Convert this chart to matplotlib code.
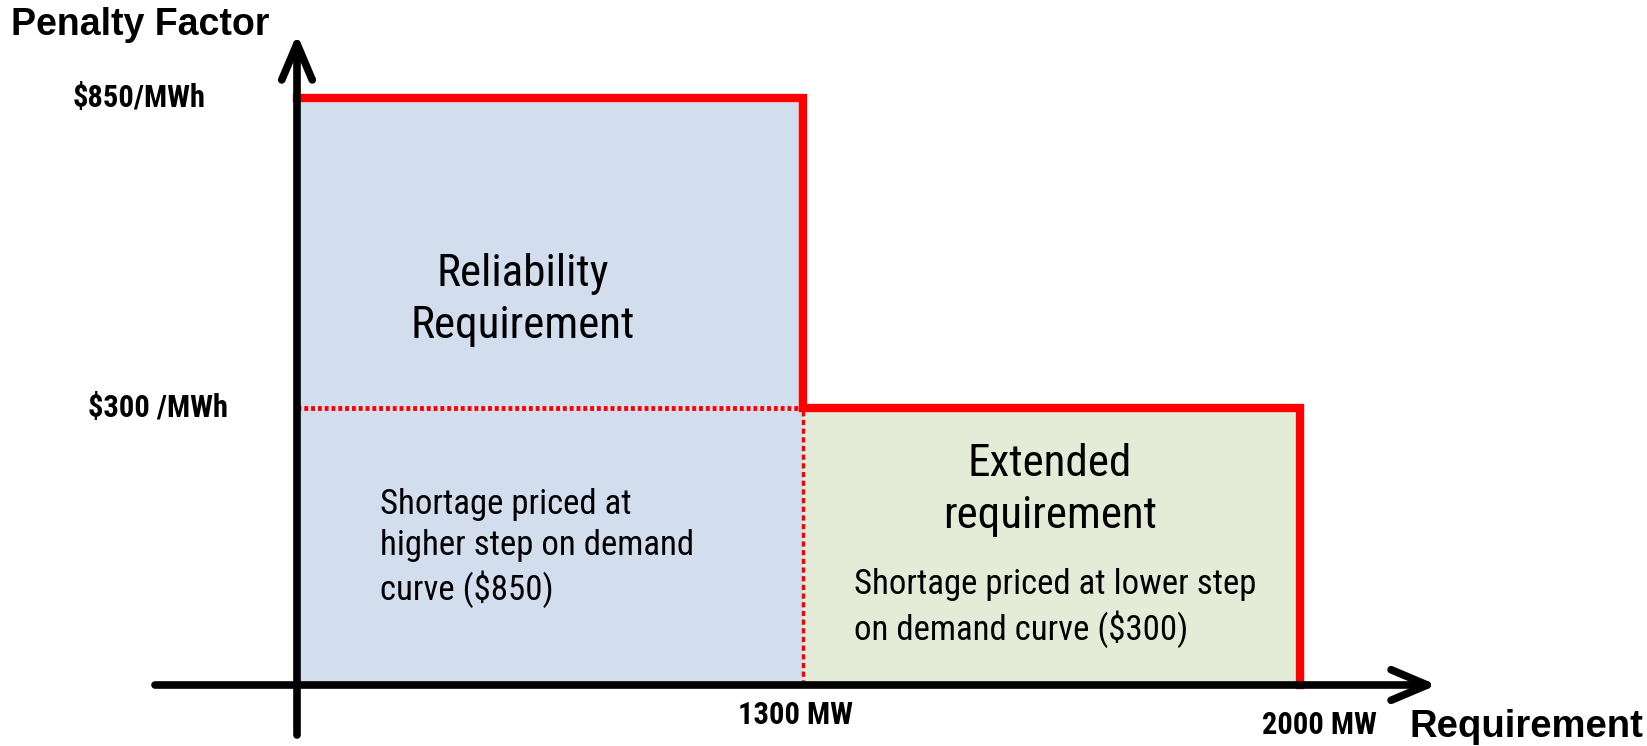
import numpy as np
import matplotlib
matplotlib.use('Agg')
import matplotlib.pyplot as plt
from matplotlib import font_manager

# data
req_mw = [0, 1300, 2000]          # requirement steps (MW)
price = [850, 300]                # penalty factor per step ($/MWh)
price_labels = ['$850/MWh', '$300 /MWh']
mw_labels = ['1300 MW', '2000 MW']

# the original sketch is not to scale -> piecewise scales
x_pts, x_pix = [0, 1300, 2000], [297, 803, 1300]
y_pts, y_pix = [0, 300, 850], [61, 338, 648]


def piecewise(xp, fp):
    xp, fp = np.asarray(xp, float), np.asarray(fp, float)
    s0 = (fp[1] - fp[0]) / (xp[1] - xp[0])
    s1 = (fp[-1] - fp[-2]) / (xp[-1] - xp[-2])
    xe = np.r_[xp[0] - 1e5, xp, xp[-1] + 1e5]
    fe = np.r_[fp[0] - 1e5 * s0, fp, fp[-1] + 1e5 * s1]
    fwd = lambda v: np.interp(v, xe, fe)
    inv = lambda v: np.interp(v, fe, xe)
    return fwd, inv


names = {f.name for f in font_manager.fontManager.ttflist}
narrow = 'Roboto Condensed' if 'Roboto Condensed' in names else 'Liberation Sans'
plt.rcParams['font.family'] = ['Liberation Sans', 'DejaVu Sans']

W, H = 1647, 746
fig = plt.figure(figsize=(W / 100, H / 100), dpi=100)
ax = fig.add_axes([0, 0, 1, 1])
fx, ix = piecewise(x_pts, x_pix)
fy, iy = piecewise(y_pts, y_pix)
ax.set_xscale('function', functions=(fx, ix))
ax.set_yscale('function', functions=(fy, iy))
ax.set_xlim(ix(0), ix(W))
ax.set_ylim(iy(0), iy(H))
ax.axis('off')

red = '#FF0000'
# filled regions
ax.fill_between(req_mw[0:2], 0, price[0], color='#D2DEEE', lw=0, zorder=1)
ax.fill_between(req_mw[1:3], 0, price[1], color='#E4ECD7', lw=0, zorder=1)

# dotted guide lines
ax.plot([req_mw[0], req_mw[1]], [price[1], price[1]], color=red, lw=3.5,
        ls=(0, (0.8, 0.6)), zorder=2)
ax.plot([req_mw[1], req_mw[1]], [0, price[1]], color=red, lw=2.5,
        ls=(0, (1.5, 1)), zorder=2)

# step curve
sx = [req_mw[0], req_mw[1], req_mw[1], req_mw[2], req_mw[2]]
sy = [price[0], price[0], price[1], price[1], 0]
ax.plot(sx, sy, color=red, lw=6, solid_joinstyle='miter', zorder=3)

# axes arrows
arr = dict(arrowstyle='->,head_length=26,head_width=11', lw=5.5, color='black',
           shrinkA=0, shrinkB=0, mutation_scale=1, capstyle='round', joinstyle='round')
ax.annotate('', xy=(0, 1 - 34 / H), xytext=(0, 1 - 735 / H),
            xycoords=('data', 'axes fraction'), textcoords=('data', 'axes fraction'),
            arrowprops=arr, zorder=5)
ax.annotate('', xy=(1437 / W, 0), xytext=(155 / W, 0),
            xycoords=('axes fraction', 'data'), textcoords=('axes fraction', 'data'),
            arrowprops=arr, zorder=5)

# labels
ax.text(11 / W, 1 - 25 / H, 'Penalty Factor', transform=ax.transAxes,
        fontsize=27, fontweight='bold', ha='left', va='center')
ax.text(1410 / W, 1 - 727 / H, 'Requirement', transform=ax.transAxes,
        fontsize=27.5, fontweight='bold', ha='left', va='center')
for lab, p, cx in zip(price_labels, price, [139, 158]):
    ax.text(cx / W, p, lab, transform=ax.get_yaxis_transform(), family=narrow,
            fontsize=22, fontweight='bold', ha='center', va='center')
for lab, cx, cy in zip(mw_labels, [795, 1319], [715, 725]):
    ax.text(cx / W, 1 - cy / H, lab, transform=ax.transAxes, family=narrow,
            fontsize=22, fontweight='bold', ha='center', va='center')

ax.text(523 / W, 1 - 300 / H, 'Reliability\nRequirement', transform=ax.transAxes,
        family=narrow, fontsize=32.5, ha='center', va='center', linespacing=1.3)
ax.text(1050 / W, 1 - 490 / H, 'Extended\nrequirement', transform=ax.transAxes,
        family=narrow, fontsize=32.5, ha='center', va='center', linespacing=1.3)
ax.text(380 / W, 1 - 548 / H, 'Shortage priced at\nhigher step on demand\ncurve ($850)',
        transform=ax.transAxes, family=narrow, fontsize=25, ha='left', va='center',
        linespacing=1.3)
ax.text(854 / W, 1 - 608 / H, 'Shortage priced at lower step\non demand curve ($300)',
        transform=ax.transAxes, family=narrow, fontsize=25, ha='left', va='center',
        linespacing=1.3)

fig.savefig('out.png', dpi=100)
